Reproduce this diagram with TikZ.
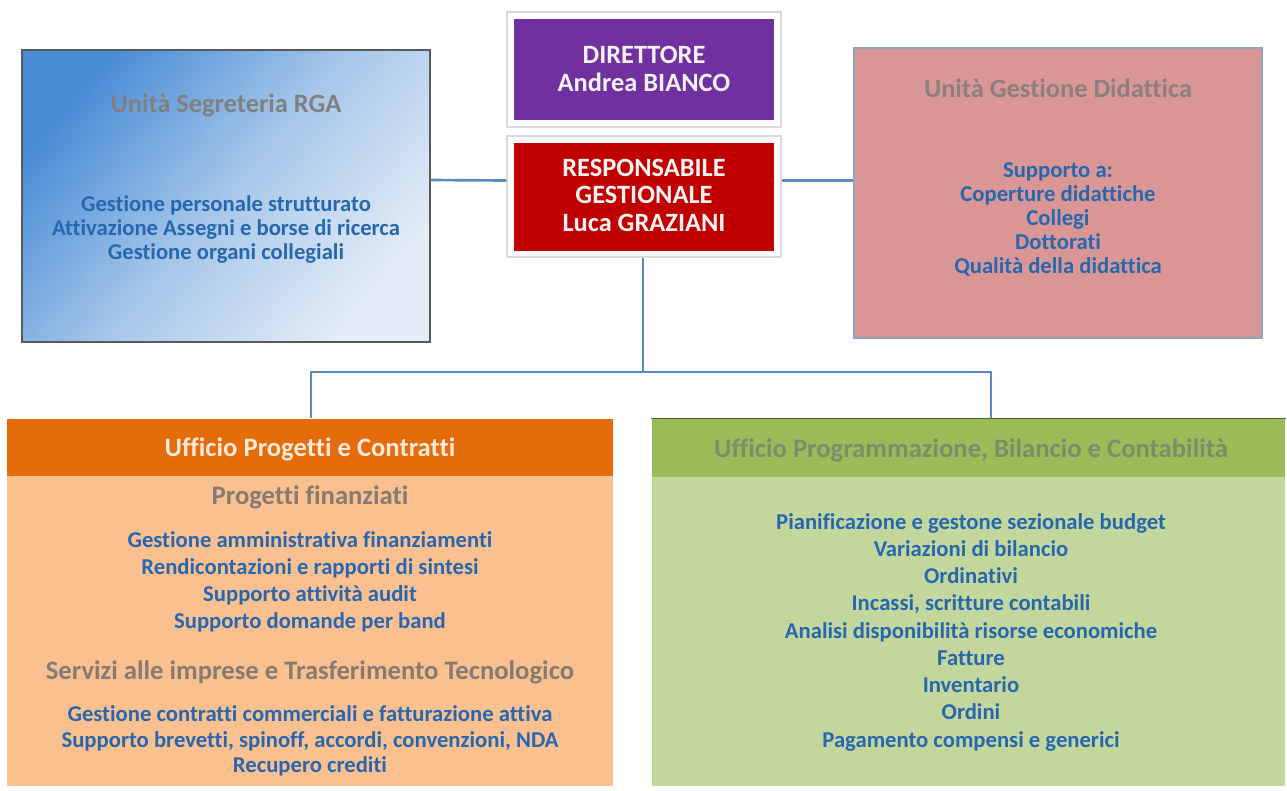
\documentclass[tikz,border=0pt]{standalone}
\usepackage{fontspec}
\setmainfont{Carlito}[Ligatures=NoCommon]
\usetikzlibrary{fit,shadows}

\definecolor{dirpurple}{HTML}{7030A0}
\definecolor{resred}{HTML}{C00000}
\definecolor{linkblue}{HTML}{5A8BBE}
\definecolor{itemblue}{HTML}{2767B0}
\definecolor{titlegray}{HTML}{808080}
\definecolor{pinkfill}{HTML}{D99694}
\definecolor{pinkgray}{HTML}{8C7F7F}
\definecolor{orangehead}{HTML}{E46C0A}
\definecolor{orangetext}{HTML}{FDE9D9}
\definecolor{orangebody}{HTML}{FAC090}
\definecolor{orangegray}{HTML}{857B72}
\definecolor{greenhead}{HTML}{9BBB59}
\definecolor{greentext}{HTML}{7F8C6A}
\definecolor{greenbody}{HTML}{C3D69B}
\definecolor{bluedark}{HTML}{4A8DD6}
\definecolor{bluelight}{HTML}{E4EDF7}
\definecolor{pinkedge}{HTML}{8FA3BF}

% font size and baseline skip, both in pt
\newcommand{\fs}[2]{\fontsize{#1pt}{#2pt}\selectfont}

\tikzset{
  box/.style={fit={#1}, inner sep=0pt, line width=0.8pt},
  frame/.style={box={#1}, fill=white, draw=black!15,
    drop shadow={shadow xshift=1pt, shadow yshift=-1pt, opacity=0.2}},
  link/.style={draw=linkblue, line width=2pt},
  txt/.style={align=center, inner sep=0pt, font=\bfseries},
}

\begin{document}
\begin{tikzpicture}[x=0.75pt, y=-0.75pt]
\useasboundingbox (0,0) rectangle (1287,790);

% director and manager frames
\node[frame={(507,12)(781,127)}] (dirframe) {};
\node[box={(514,19)(774,120)}, fill=dirpurple] (dir) {};
\node[txt, text=black!5, font=\bfseries\fs{19.8}{20.6}] (dirtext) at (644,69)
  {DIRETTORE\\Andrea BIANCO};

\node[frame={(507,136)(781,257)}] (resframe) {};
\node[box={(514,143)(774,251)}, fill=resred] (res) {};
\node[txt, text=black!5, font=\bfseries\fs{19.8}{20.6}] (restext) at (644,195)
  {RESPONSABILE\\GESTIONALE\\Luca GRAZIANI};

% secretariat unit with diagonal gradient
\node[box={(22,50)(430,342)}, draw=black!65, top color=bluedark,
  bottom color=bluelight, middle color=bluedark!40!bluelight,
  shading angle=50] (seg) {};
\node[txt, text=titlegray, font=\bfseries\fs{19.8}{19.5}] (segtitle) at (226,105)
  {Unità Segreteria RGA};
\node[txt, text=itemblue, font=\bfseries\fs{17}{18}] (segitems) at (226,229)
  {Gestione personale strutturato\\Attivazione Assegni e borse di ricerca\\Gestione organi collegiali};

% teaching unit
\node[box={(854,48)(1262,338)}, fill=pinkfill, draw=pinkedge] (did) {};
\node[txt, text=pinkgray, font=\bfseries\fs{19.8}{19.5}] (didtitle) at (1058,88)
  {Unità Gestione Didattica};
\node[txt, text=itemblue, font=\bfseries\fs{17}{18}] (diditems) at (1058,219)
  {Supporto a:\\Coperture didattiche\\Collegi\\Dottorati\\Qualità della didattica};

% projects and contracts office
\node[box={(7,476)(613,786)}, fill=orangebody] (upcbody) {};
\node[box={(7,419)(613,476)}, fill=orangehead] (upc) {};
\node[txt, text=orangetext, font=\bfseries\fs{20}{19.5}] (upctitle) at (310,449)
  {Ufficio Progetti e Contratti};
\node[txt, text=orangegray, font=\bfseries\fs{20}{19.5}] (upcsub1) at (310,497)
  {Progetti finanziati};
\node[txt, text=itemblue, font=\bfseries\fs{17}{20.25}] (upcitems1) at (310,582)
  {Gestione amministrativa finanziamenti\\Rendicontazioni e rapporti di sintesi\\Supporto attività audit\\Supporto domande per band};
\node[txt, text=orangegray, font=\bfseries\fs{20}{19.5}] (upcsub2) at (310,672)
  {Servizi alle imprese e Trasferimento Tecnologico};
\node[txt, text=itemblue, font=\bfseries\fs{17}{19.1}] (upcitems2) at (310,741)
  {Gestione contratti commerciali e fatturazione attiva\\Supporto brevetti, spinoff, accordi, convenzioni, NDA\\Recupero crediti};

% planning, budget and accounting office
\node[box={(652,477)(1285,786)}, fill=greenbody] (upbbody) {};
\node[box={(652,419)(1285,477)}, fill=greenhead] (upb) {};
\draw[draw=black!45!greenhead, line width=1pt] (upb.north west) -- (upb.north east);
\node[txt, text=greentext, font=\bfseries\fs{20}{19.5}] (upbtitle) at (971,450)
  {Ufficio Programmazione, Bilancio e Contabilità};
\node[txt, text=itemblue, font=\bfseries\fs{17}{20.44}] (upbitems) at (971,632)
  {Pianificazione e gestone sezionale budget\\Variazioni di bilancio\\Ordinativi\\Incassi, scritture contabili\\Analisi disponibilità risorse economiche\\Fatture\\Inventario\\Ordini\\Pagamento compensi e generici};

% connectors
\coordinate (hub) at (643,372);
\draw[link] ([yshift=12pt]seg.east) -- ([yshift=12pt]resframe.west);
\draw[link] ([yshift=12pt]resframe.east) -- ([yshift=12pt]resframe.east -| did.west);
\draw[link] (resframe.south -| hub) -- (hub);
\draw[link] (upc.north -| 311,0) |- (hub);
\draw[link] (upb.north -| 991,0) |- (hub);
\end{tikzpicture}
\end{document}
